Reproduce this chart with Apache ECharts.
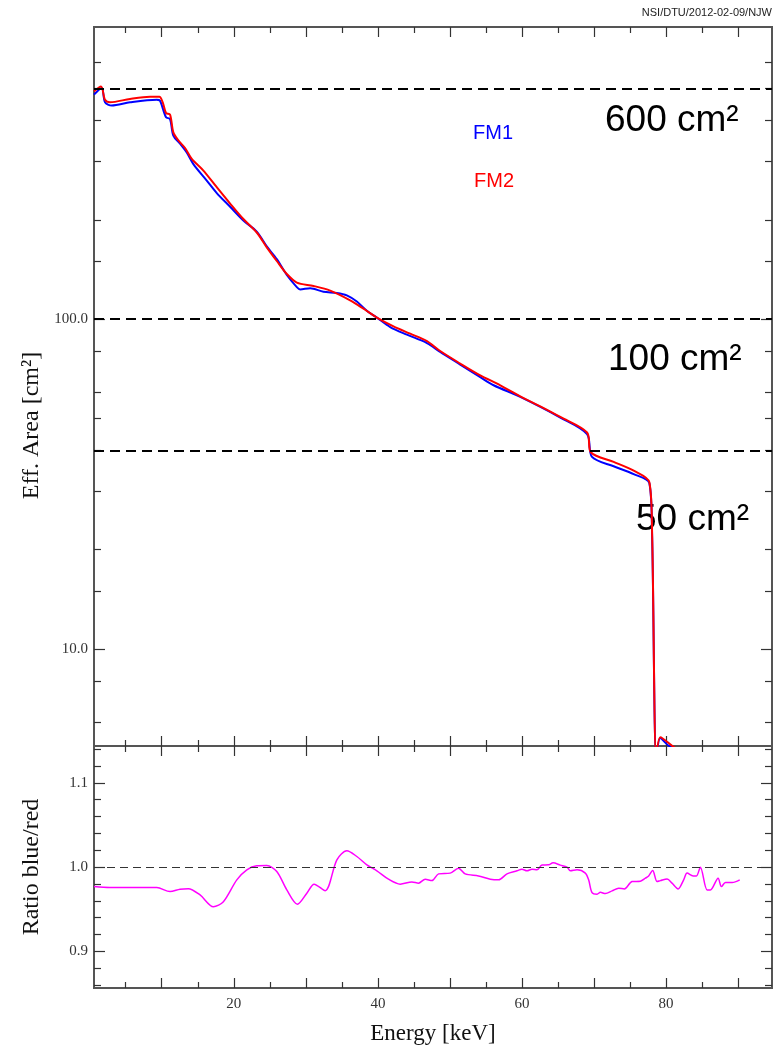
<!DOCTYPE html>
<html>
<head>
<meta charset="utf-8">
<title>Eff. Area FM1 / FM2</title>
<script src="https://cdn.jsdelivr.net/npm/echarts@6/dist/echarts.min.js"></script>
<style>
html,body{margin:0;padding:0;background:#fff;}
#main{width:778px;height:1050px;}
</style>
</head>
<body>
<div id="main"></div>
<script>
// FM1 (blue), effective area in cm2
var fm1Energy = [0.6, 1.67, 2.13, 3.06, 5.6, 9.31, 9.76, 10.6, 11.15, 11.61, 12.54, 13.47, 14.39, 16.25, 17.64, 19.49, 21.33, 23.19, 24.58, 25.97, 27.36, 28.75, 29.21, 30.6, 32.44, 34.29, 35.69, 37.08, 38.47, 39.86, 41.71, 44.03, 46.81, 48.65, 51.43, 54.21, 56.06, 59.76, 65.32, 69.03, 69.72, 72.72, 75.5, 77.68, 78.06, 78.65, 79.2, 80.36, 82.0];
var fm1Area = [479, 502, 454, 444, 454, 462, 459, 409, 404, 360, 340, 320, 295, 263, 241, 219, 199, 184, 166, 152, 136, 125, 123, 124, 121, 120, 118, 113, 106, 101, 94.6, 89.7, 84.6, 79.5, 72.8, 66.7, 63.0, 58.1, 50.3, 44.8, 38.2, 35.8, 33.9, 31.8, 22.1, 4.6, 5.37, 5.09, 4.9];

// FM2 (red)
var fm2Energy = [0.6, 1.57, 2.13, 2.82, 5.6, 8.38, 9.67, 10.14, 10.6, 11.15, 11.61, 12.31, 13.24, 14.17, 15.78, 17.64, 19.49, 21.33, 23.19, 24.58, 25.97, 27.36, 28.75, 31.06, 33.38, 36.15, 38.0, 39.86, 42.17, 44.49, 46.81, 48.65, 51.43, 54.21, 56.99, 59.76, 62.54, 65.32, 69.03, 69.58, 72.72, 75.5, 77.68, 78.06, 78.65, 79.2, 80.97, 82.0];
var fm2Area = [490, 507, 462, 454, 465, 472, 472, 454, 421, 417, 368, 348, 330, 306, 282, 251, 224, 201, 183, 165, 150, 137, 129, 126, 122, 114, 107.5, 101, 95.0, 90.3, 85.8, 80.0, 73.3, 67.5, 63.0, 58.3, 54.4, 50.5, 45.3, 39.4, 36.9, 34.7, 32.0, 22.4, 4.6, 5.4, 5.06, 4.9];

// ratio blue/red
var ratioEnergy = [0.6, 2.82, 9.31, 11.15, 12.54, 13.69, 15.32, 17.17, 18.56, 20.42, 21.81, 23.19, 24.58, 25.97, 27.36, 28.83, 30.14, 31.15, 32.68, 34.31, 35.69, 37.08, 38.47, 39.86, 41.47, 43.1, 44.72, 45.64, 46.57, 47.5, 48.42, 50.04, 51.19, 52.12, 53.96, 55.6, 56.75, 57.92, 59.31, 60.0, 60.69, 61.39, 62.08, 62.78, 63.69, 64.31, 65.32, 66.25, 66.71, 67.64, 68.79, 69.25, 69.72, 70.42, 70.88, 71.57, 72.5, 73.42, 74.21, 75.28, 76.43, 77.13, 77.58, 78.14, 78.75, 79.21, 80.14, 80.83, 81.67, 82.44, 82.92, 83.75, 84.21, 84.76, 85.69, 86.15, 87.22, 87.68, 88.24, 89.17, 90.22];
var ratioValue = [0.9769, 0.9758, 0.9758, 0.971, 0.9738, 0.9745, 0.967, 0.9531, 0.959, 0.9849, 0.9968, 1.0015, 1.0019, 0.9948, 0.973, 0.956, 0.969, 0.9798, 0.9721, 1.0087, 1.0194, 1.0126, 1.0027, 0.9956, 0.9857, 0.9798, 0.9825, 0.981, 0.9857, 0.984, 0.992, 0.9929, 0.9988, 0.992, 0.9896, 0.9857, 0.9849, 0.992, 0.9956, 0.9976, 0.9956, 0.9976, 0.9968, 1.0024, 1.0027, 1.0051, 1.0024, 1.0, 0.9956, 0.9968, 0.9929, 0.9849, 0.9698, 0.9679, 0.9702, 0.9686, 0.9718, 0.975, 0.9742, 0.9829, 0.9833, 0.9869, 0.9896, 0.996, 0.9829, 0.984, 0.986, 0.981, 0.9742, 0.9849, 0.9929, 0.9896, 0.9896, 1.0, 0.973, 0.973, 0.9869, 0.9769, 0.9817, 0.9817, 0.9849];

// reference levels drawn as dashed lines, and their captions
var areaLevels = [500, 100, 40];
var levelCaptions = ['600 cm²', '100 cm²', '50 cm²'];

// ticks and labels
var energyMajor = [10, 20, 30, 40, 50, 60, 70, 80, 90];
var energyMinor = [5, 15, 25, 35, 45, 55, 65, 75, 85];
var energyLabels = [20, 40, 60, 80];
var areaMajor = [10, 100];
var areaMinor = [6, 8, 15, 20, 30, 40, 50, 60, 80, 150, 200, 300, 400, 500, 600];
var ratioMajor = [0.9, 1.0, 1.1];
var ratioMinor = [0.86, 0.88, 0.92, 0.94, 0.96, 0.98, 1.02, 1.04, 1.06, 1.08, 1.12, 1.14];

function pairs(xs, ys) {
    var out = [];
    for (var i = 0; i < xs.length; i++) out.push([xs[i], ys[i]]);
    return out;
}

var serif = 'Liberation Serif';

function xAx(grid, pos, ticks, len, labels, name) {
    return {
        type: 'value', gridIndex: grid, position: pos, min: 0.6, max: 94.7,
        axisLine: {show: false}, splitLine: {show: false},
        axisTick: {show: true, inside: true, length: len, customValues: ticks, lineStyle: {color: '#333', width: 1.2}},
        axisLabel: labels ? {show: true, customValues: labels, margin: 9, fontFamily: serif, fontSize: 15, color: '#333'} : {show: false},
        name: name || '', nameLocation: 'middle', nameGap: 34,
        nameTextStyle: {fontFamily: serif, fontSize: 23, color: '#111'}
    };
}

function yAx(grid, pos, type, min, max, ticks, len, labels, name, pad) {
    return {
        type: type, gridIndex: grid, position: pos, min: min, max: max, logBase: 10,
        axisLine: {show: false}, splitLine: {show: false},
        axisTick: {show: true, inside: true, length: len, customValues: ticks, lineStyle: {color: '#333', width: 1.2}},
        axisLabel: labels ? {show: true, customValues: labels, margin: 6, fontFamily: serif, fontSize: 15, color: '#333',
            formatter: function (v) { return Number(v).toFixed(1); }} : {show: false},
        name: name || '', nameLocation: 'middle', nameGap: 50,
        nameTextStyle: {fontFamily: serif, fontSize: 24, color: '#111', padding: pad || 0}
    };
}

var chart = echarts.init(document.getElementById('main'), null, {renderer: 'canvas'});

var option = {
    animation: false,
    backgroundColor: '#fff',
    grid: [
        {left: 94, top: 27, width: 678, height: 719, show: true, borderColor: '#555', borderWidth: 2, backgroundColor: 'transparent'},
        {left: 94, top: 746, width: 678, height: 242, show: true, borderColor: '#555', borderWidth: 2, backgroundColor: 'transparent'}
    ],
    xAxis: [
        xAx(0, 'bottom', energyMajor, 10),
        xAx(0, 'bottom', energyMinor, 6),
        xAx(0, 'top', energyMajor, 10),
        xAx(0, 'top', energyMinor, 6),
        xAx(1, 'bottom', energyMajor, 10, energyLabels, 'Energy [keV]'),
        xAx(1, 'bottom', energyMinor, 6),
        xAx(1, 'top', energyMajor, 10),
        xAx(1, 'top', energyMinor, 6)
    ],
    yAxis: [
        yAx(0, 'left', 'log', 5.08, 768, areaMajor, 11, areaMajor, 'Eff. Area [cm²]', [0, 78, 0, 0]),
        yAx(0, 'left', 'log', 5.08, 768, areaMinor, 7),
        yAx(0, 'right', 'log', 5.08, 768, areaMajor, 11),
        yAx(0, 'right', 'log', 5.08, 768, areaMinor, 7),
        yAx(1, 'left', 'value', 0.8567, 1.1436, ratioMajor, 11, ratioMajor, 'Ratio blue/red'),
        yAx(1, 'left', 'value', 0.8567, 1.1436, ratioMinor, 7),
        yAx(1, 'right', 'value', 0.8567, 1.1436, ratioMajor, 11),
        yAx(1, 'right', 'value', 0.8567, 1.1436, ratioMinor, 7)
    ],
    series: [
        {
            name: 'FM1', type: 'line', xAxisIndex: 0, yAxisIndex: 0,
            data: pairs(fm1Energy, fm1Area), showSymbol: false, smooth: 0.3,
            lineStyle: {color: '#0000ff', width: 2}, itemStyle: {color: '#0000ff'},
            markLine: {
                silent: true, symbol: 'none', label: {show: false},
                lineStyle: {color: '#000', width: 2, type: [10, 6]},
                data: areaLevels.map(function (v) { return {yAxis: v}; })
            }
        },
        {
            name: 'FM2', type: 'line', xAxisIndex: 0, yAxisIndex: 0,
            data: pairs(fm2Energy, fm2Area), showSymbol: false, smooth: 0.3,
            lineStyle: {color: '#ff0000', width: 2}, itemStyle: {color: '#ff0000'}
        },
        {
            name: 'Ratio', type: 'line', xAxisIndex: 4, yAxisIndex: 4,
            data: pairs(ratioEnergy, ratioValue), showSymbol: false, smooth: 0.3,
            lineStyle: {color: '#ff00ff', width: 1.5}, itemStyle: {color: '#ff00ff'},
            markLine: {
                silent: true, symbol: 'none', label: {show: false},
                lineStyle: {color: '#333', width: 1.2, type: [8, 5]},
                data: [{yAxis: 1.0}]
            }
        }
    ],
    graphic: [
        {type: 'text', right: 6, top: 7, style: {text: 'NSI/DTU/2012-02-09/NJW', font: '11px "Liberation Sans"', fill: '#222'}},
        {type: 'text', x: 493, y: 133, style: {text: 'FM1', font: '20px "Liberation Sans"', fill: '#0000ff', align: 'center', verticalAlign: 'middle'}},
        {type: 'text', x: 494, y: 181, style: {text: 'FM2', font: '20px "Liberation Sans"', fill: '#ff0000', align: 'center', verticalAlign: 'middle'}},
        {type: 'text', x: 605, y: 121, style: {text: levelCaptions[0], font: '37px "Liberation Sans"', fill: '#000', verticalAlign: 'middle'}},
        {type: 'text', x: 608, y: 360, style: {text: levelCaptions[1], font: '37px "Liberation Sans"', fill: '#000', verticalAlign: 'middle'}},
        {type: 'text', x: 636, y: 520, style: {text: levelCaptions[2], font: '37px "Liberation Sans"', fill: '#000', verticalAlign: 'middle'}}
    ]
};

chart.setOption(option);
</script>
</body>
</html>
